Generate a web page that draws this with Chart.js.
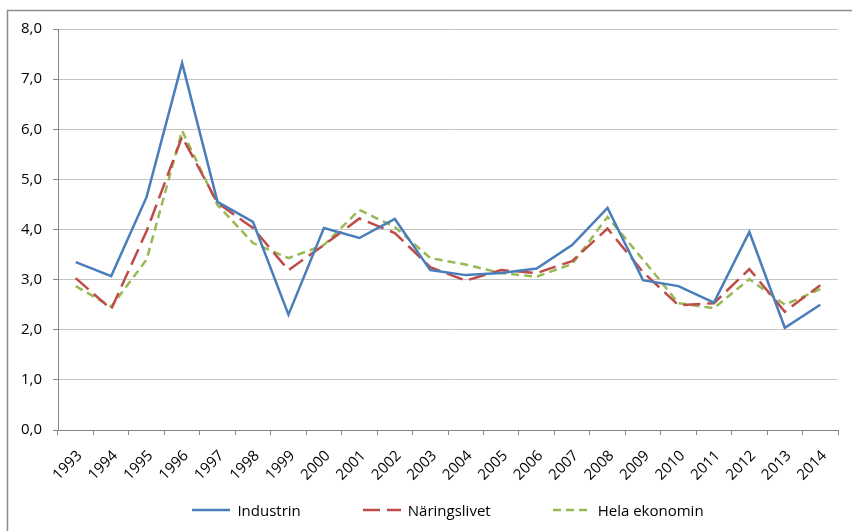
<!DOCTYPE html>
<html>
<head>
<meta charset="utf-8">
<script src="https://cdn.jsdelivr.net/npm/chart.js@4/dist/chart.umd.min.js"></script>
<style>
  html, body { margin: 0; padding: 0; background: #fff; }
  #wrap { width: 852px; height: 531px; position: relative; overflow: hidden; }
  #chart { position: absolute; left: 0; top: 0; }
  #legend {
    position: absolute; left: 58px; width: 780px; top: 499px; height: 22px;
    display: flex; justify-content: center; align-items: center; gap: 62px;
    font-family: 'Open Sans', sans-serif; font-size: 15px; color: #000;
  }
  #legend .item { display: flex; align-items: center; white-space: nowrap; }
  #legend canvas { margin-right: 7px; }
</style>
</head>
<body>
<div id="wrap">
  <canvas id="chart" width="852" height="531"></canvas>
  <div id="legend"></div>
</div>
<script>
// Årtal och serier
const years = ["1993", "1994", "1995", "1996", "1997", "1998", "1999", "2000", "2001", "2002", "2003",
  "2004", "2005", "2006", "2007", "2008", "2009", "2010", "2011", "2012", "2013", "2014"];
const industrin = [3.35, 3.07, 4.65, 7.32, 4.55, 4.15, 2.30, 4.03, 3.83, 4.21, 3.19,
  3.09, 3.13, 3.22, 3.69, 4.43, 2.99, 2.87, 2.54, 3.95, 2.04, 2.50];
const naringslivet = [3.03, 2.41, 3.97, 5.85, 4.53, 4.03, 3.19, 3.69, 4.22, 3.93, 3.25,
  2.98, 3.19, 3.13, 3.37, 4.02, 3.15, 2.49, 2.53, 3.21, 2.36, 2.89];
const helaEkonomin = [2.87, 2.46, 3.40, 5.97, 4.49, 3.73, 3.43, 3.69, 4.39, 4.05, 3.43,
  3.30, 3.13, 3.06, 3.31, 4.25, 3.40, 2.53, 2.43, 3.01, 2.50, 2.81];
const yTickLabels = ["0,0", "1,0", "2,0", "3,0", "4,0", "5,0", "6,0", "7,0", "8,0"];

const FONT = "'Open Sans', sans-serif";

// Ram runt diagrammet (bara vänster och övre kant syns)
const framePlugin = {
  id: "frame",
  beforeDraw(chart) {
    const ctx = chart.ctx;
    ctx.save();
    ctx.strokeStyle = "#8c8c8c";
    ctx.lineWidth = 1.5;
    ctx.beginPath();
    ctx.moveTo(7.5, chart.height);
    ctx.lineTo(7.5, 10.5);
    ctx.lineTo(chart.width, 10.5);
    ctx.stroke();
    ctx.restore();
  },
};

const chart = new Chart(document.getElementById("chart"), {
  type: "line",
  data: {
    labels: years,
    datasets: [
      {
        label: "Industrin",
        data: industrin,
        borderColor: "#4A7EBB",
        backgroundColor: "#4A7EBB",
        borderWidth: 2.5,
        pointRadius: 0,
        tension: 0,
      },
      {
        label: "Näringslivet",
        data: naringslivet,
        borderColor: "#BE4B48",
        backgroundColor: "#BE4B48",
        borderWidth: 2.5,
        borderDash: [17, 7],
        pointRadius: 0,
        tension: 0,
      },
      {
        label: "Hela ekonomin",
        data: helaEkonomin,
        borderColor: "#98B954",
        backgroundColor: "#98B954",
        borderWidth: 2.5,
        borderDash: [8, 5],
        pointRadius: 0,
        tension: 0,
      },
    ],
  },
  options: {
    responsive: false,
    animation: false,
    layout: { padding: { left: 0, right: 14, top: 29, bottom: 31 } },
    scales: {
      x: {
        offset: true,
        grid: {
          offset: true,
          drawOnChartArea: false,
          tickLength: 5,
          tickColor: "#868686",
        },
        border: { color: "#868686", width: 1 },
        ticks: {
          autoSkip: false,
          maxRotation: 45,
          minRotation: 45,
          padding: 12,
          labelOffset: 4,
          color: "#000",
          font: { family: FONT, size: 15 },
        },
        afterFit(scale) { scale.height = 70; },
      },
      y: {
        min: 0,
        max: 8,
        ticks: {
          stepSize: 1,
          padding: 11,
          color: "#000",
          font: { family: FONT, size: 15 },
          callback: (value, index) => yTickLabels[index],
        },
        grid: {
          color: "#c4c4c4",
          tickLength: 5,
          tickColor: "#868686",
        },
        border: { color: "#868686", width: 1 },
        afterFit(scale) { scale.width = 58; },
      },
    },
    plugins: {
      legend: { display: false }, // egen legend i HTML nedan
      tooltip: { enabled: false },
    },
  },
  plugins: [framePlugin],
});

// Legend i HTML, byggd från diagrammets dataset
const legendEl = document.getElementById("legend");
chart.data.datasets.forEach((ds) => {
  const item = document.createElement("div");
  item.className = "item";
  const sample = document.createElement("canvas");
  sample.width = 38;
  sample.height = 10;
  const c = sample.getContext("2d");
  c.strokeStyle = ds.borderColor;
  c.lineWidth = ds.borderWidth;
  c.setLineDash(ds.borderDash || []);
  c.beginPath();
  c.moveTo(0, 5);
  c.lineTo(38, 5);
  c.stroke();
  const text = document.createElement("span");
  text.textContent = ds.label;
  item.appendChild(sample);
  item.appendChild(text);
  legendEl.appendChild(item);
});
</script>
</body>
</html>
